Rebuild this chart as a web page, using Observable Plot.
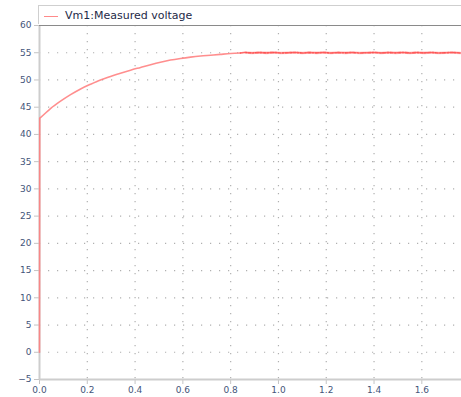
<!DOCTYPE html>
<html>
<head>
<meta charset="utf-8">
<script src="https://cdn.jsdelivr.net/npm/d3@7"></script>
<script src="https://cdn.jsdelivr.net/npm/@observablehq/plot@0.6"></script>
<style>
  html, body { margin: 0; padding: 0; background: #fff; }
  #wrap { position: relative; width: 461px; height: 397px; overflow: hidden; }
  #legend { position: absolute; left: 38px; top: 5px; width: 430px; height: 19px;
    border-top: 1px solid #cfcfcf; border-left: 1px solid #cfcfcf; box-sizing: border-box;
    font: 11px "DejaVu Sans", Verdana, sans-serif; color: #1e2a48; }
  #legend .sw { position: absolute; left: 5px; top: 10px; width: 14px; height: 0; border-top: 1.5px solid #ff8a8a; }
  #legend .lbl { position: absolute; left: 26px; top: 3px; white-space: nowrap; }
  svg { position: absolute; left: 0; top: 0; }
  [aria-label="y-axis tick"], [aria-label="x-axis tick"] { stroke: #c4c4c4; }
  [aria-label="y-axis tick label"], [aria-label="x-axis tick label"] { fill: #44557a; }
</style>
</head>
<body>
<div id="wrap">
  <div id="legend"><span class="sw"></span><span class="lbl" id="lbl"></span></div>
</div>
<script>
const seriesName = "Vm1:Measured voltage";
// rising part of the measured voltage (time s, voltage V)
const riseTime = [0, 0.001, 0.004, 0.046, 0.088, 0.130, 0.172, 0.213, 0.255, 0.297, 0.339, 0.381, 0.423, 0.465, 0.506, 0.548, 0.590, 0.632, 0.674, 0.716, 0.757, 0.800, 0.841];
const riseVolt = [0, 43.0, 43.1, 44.75, 46.1, 47.3, 48.35, 49.2, 50.0, 50.65, 51.25, 51.8, 52.3, 52.8, 53.25, 53.65, 53.95, 54.2, 54.4, 54.55, 54.7, 54.85, 54.95];
// steady-state (noisy) part
const flatTime = [0.86, 0.89, 0.92, 0.95, 0.98, 1.01, 1.04, 1.07, 1.10, 1.13, 1.16, 1.19, 1.22, 1.25, 1.28, 1.31, 1.34, 1.37, 1.40, 1.43, 1.46, 1.49, 1.52, 1.55, 1.58, 1.61, 1.64, 1.67, 1.70, 1.73, 1.76];
const flatVolt = [55.05, 54.95, 55.03, 54.97, 55.05, 54.95, 55.0, 55.05, 54.95, 55.03, 54.97, 55.05, 54.95, 55.03, 54.97, 55.05, 54.95, 55.0, 55.05, 54.95, 55.03, 54.97, 55.05, 54.95, 55.03, 54.97, 55.05, 54.95, 55.0, 55.05, 54.95];
const xTicks = [0.0, 0.2, 0.4, 0.6, 0.8, 1.0, 1.2, 1.4, 1.6];
const yTicks = [-5, 0, 5, 10, 15, 20, 25, 30, 35, 40, 45, 50, 55, 60];

document.getElementById("lbl").textContent = seriesName;

const rise = riseTime.map((t, i) => ({t, v: riseVolt[i]}));
const flat = flatTime.map((t, i) => ({t, v: flatVolt[i]}));

const chart = Plot.plot({
  width: 461,
  height: 397,
  marginLeft: 39,
  marginRight: 0,
  marginTop: 25,
  marginBottom: 18,
  style: { fontFamily: "'DejaVu Sans', Verdana, sans-serif", fontSize: "9px", background: "transparent", overflow: "visible" },
  x: { domain: [0, 1.766], ticks: xTicks, tickFormat: d3.format(".1f"), tickSize: 5, tickPadding: 2, label: null },
  y: { domain: [-5, 60], ticks: yTicks, tickSize: 5, tickPadding: 3, label: null },
  marks: [
    Plot.ruleY(yTicks.filter(d => d > -5 && d < 60), { stroke: "#b0b0b0", strokeWidth: 1.2, strokeDasharray: "1.2,7.8" }),
    Plot.ruleX(xTicks.filter(d => d > 0), { stroke: "#b0b0b0", strokeWidth: 1.2, strokeDasharray: "1.2,6.8" }),
    Plot.ruleX([0], { stroke: "#cdcdcd", strokeWidth: 2 }),
    Plot.ruleY([-5], { stroke: "#cdcdcd", strokeWidth: 2 }),
    Plot.ruleY([60], { stroke: "#8a8a8a", strokeWidth: 1.2 }),
    Plot.line(rise, { x: "t", y: "v", stroke: "#ff7a7a", strokeWidth: 1.6, strokeOpacity: 0.85, curve: "monotone-x" }),
    Plot.line(flat, { x: "t", y: "v", stroke: "#ff9a9a", strokeWidth: 2.6, strokeOpacity: 0.6 }),
    Plot.line([rise[rise.length - 1]].concat(flat), { x: "t", y: "v", stroke: "#ff2e2e", strokeWidth: 1.6, strokeOpacity: 0.7, strokeDasharray: "3,1.5,1.5,1.5" })
  ]
});
document.getElementById("wrap").insertBefore(chart, document.getElementById("legend"));
</script>
</body>
</html>
